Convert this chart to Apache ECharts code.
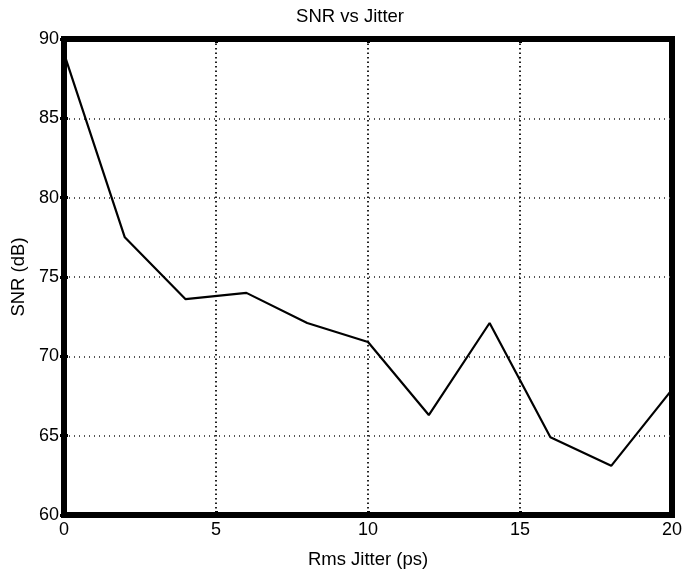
<!DOCTYPE html>
<html>
<head>
<meta charset="utf-8">
<script src="https://cdn.jsdelivr.net/npm/echarts@6/dist/echarts.min.js"></script>
<style>
  html, body { margin: 0; padding: 0; background: #fff; }
  #chart { width: 700px; height: 574px; }
</style>
</head>
<body>
<div id="chart"></div>
<script>
// rms jitter (ps) and the measured SNR (dB)
const jitter = [0, 2, 4, 6, 8, 10, 12, 14, 16, 18, 20]
const snr = [89.1, 77.5, 73.6, 74.0, 72.1, 70.9, 66.3, 72.1, 64.9, 63.1, 67.9]

const font = 'Liberation Sans, Arial, sans-serif'
const tick = { show: true, inside: true, length: 4, lineStyle: { color: '#000', width: 3 } }
const label = { fontFamily: font, fontSize: 18, color: '#000' }

const chart = echarts.init(document.getElementById('chart'))
chart.setOption({
  animation: false,
  title: {
    text: 'SNR vs Jitter',
    left: 'center',
    top: 2,
    textStyle: { fontFamily: font, fontSize: 18.5, fontWeight: 'normal', color: '#000' }
  },
  grid: {
    left: 64, right: 28, top: 39, bottom: 58,
    show: true, borderColor: '#000', borderWidth: 6
  },
  xAxis: [{
    type: 'value', min: 0, max: 20, interval: 5,
    name: 'Rms Jitter (ps)', nameLocation: 'middle', nameGap: 35,
    nameTextStyle: { fontFamily: font, fontSize: 18.5, color: '#000' },
    axisLine: { show: false },
    axisTick: tick,
    axisLabel: Object.assign({ margin: 6 }, label),
    splitLine: {
      show: true, showMinLine: false, showMaxLine: false,
      lineStyle: { color: '#222', width: 2, type: [1.5, 3] }
    }
  }, {
    type: 'value', position: 'top', min: 0, max: 20, interval: 5,
    axisLine: { show: false }, axisTick: tick, axisLabel: { show: false }, splitLine: { show: false }
  }],
  yAxis: [{
    type: 'value', min: 60, max: 90, interval: 5,
    name: 'SNR (dB)', nameLocation: 'middle', nameGap: 35,
    nameTextStyle: { fontFamily: font, fontSize: 18.5, color: '#000' },
    axisLine: { show: false },
    axisTick: tick,
    axisLabel: Object.assign({ margin: 5 }, label),
    splitLine: {
      show: true, showMinLine: false, showMaxLine: false,
      lineStyle: { color: '#555', width: 2, type: [1, 4] }
    }
  }, {
    type: 'value', position: 'right', min: 60, max: 90, interval: 5,
    axisLine: { show: false }, axisTick: tick, axisLabel: { show: false }, splitLine: { show: false }
  }],
  series: [{
    type: 'line',
    data: jitter.map((x, i) => [x, snr[i]]),
    showSymbol: false,
    lineStyle: { color: '#000', width: 2.2 },
    z: 5
  }]
})
</script>
</body>
</html>
